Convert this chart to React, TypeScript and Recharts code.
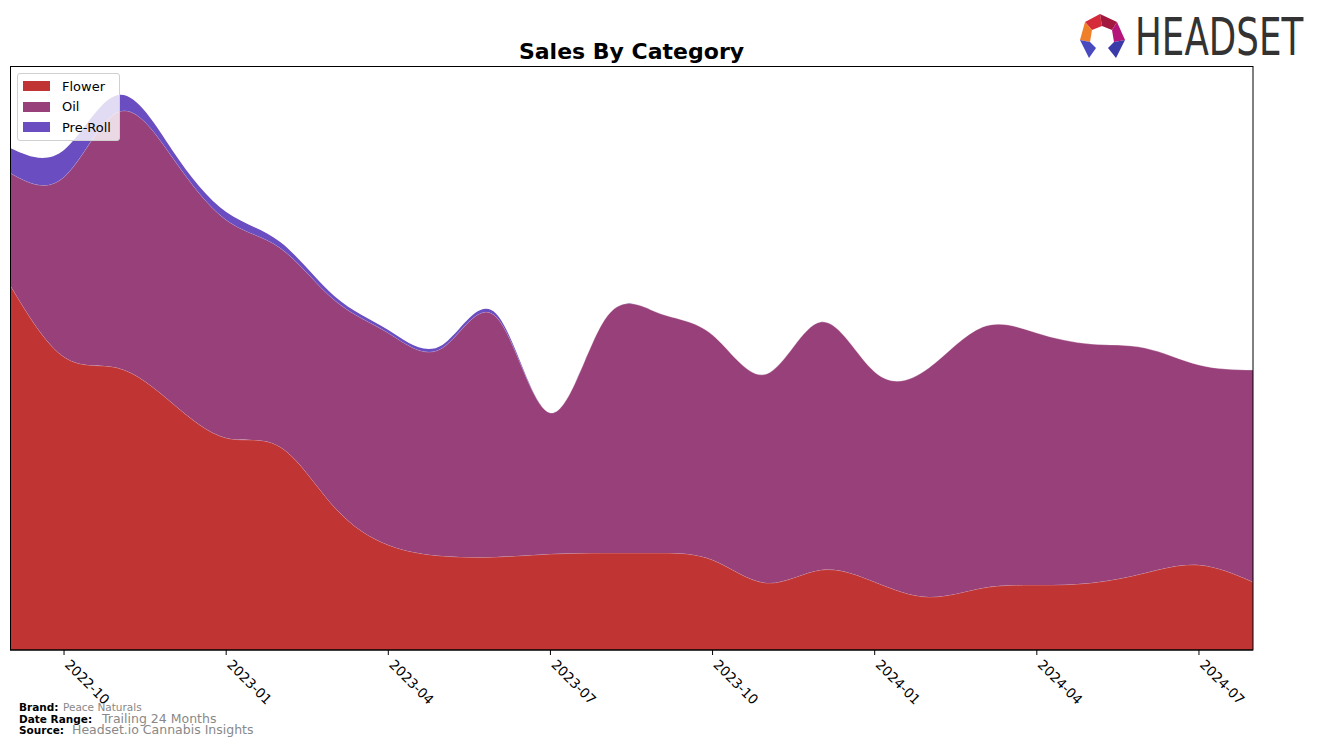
import React from "react";
import { Area, AreaChart, Legend, XAxis, YAxis } from "recharts";

// monthly points, 2022-09 .. 2024-08 (px-ish units)
const months = [
  "2022-09", "2022-10", "2022-11", "2022-12", "2023-01", "2023-02",
  "2023-03", "2023-04", "2023-05", "2023-06", "2023-07", "2023-08",
  "2023-09", "2023-10", "2023-11", "2023-12", "2024-01", "2024-02",
  "2024-03", "2024-04", "2024-05", "2024-06", "2024-07", "2024-08",
];
const tickMonths = [
  "2022-10", "2023-01", "2023-04", "2023-07",
  "2023-10", "2024-01", "2024-04", "2024-07",
];
const flower = [
  365, 293, 282, 247, 212, 203, 143, 105, 94, 93, 96, 97,
  97, 90, 67, 80, 68, 53, 62, 65, 67, 77, 85, 68,
];
const oil = [
  112, 180, 256, 246, 218, 199, 207, 212, 208, 240, 141, 233,
  240, 225, 209, 248, 210, 229, 261, 252, 239, 225, 200, 212,
];
const preRoll = [
  25, 27, 17, 7, 8, 6, 4, 3, 3, 3, 0, 0,
  0, 0, 0, 0, 0, 0, 0, 0, 0, 0, 0, 0,
];

const series = [
  { key: "Flower", color: "#C13434" },
  { key: "Oil", color: "#974079" },
  { key: "Pre-Roll", color: "#6A4DC0" },
];

const data = months.map((m, i) => ({
  month: m,
  Flower: flower[i],
  Oil: oil[i],
  "Pre-Roll": preRoll[i],
}));

const FONT = "'DejaVu Sans', Verdana, sans-serif";

function RotTick({ x, y, payload }: any) {
  return (
    <g transform={`translate(${x},${y})`}>
      <text
        x={0}
        y={0}
        transform="rotate(45) translate(6,6)"
        textAnchor="start"
        fontSize={13.5}
        fontFamily={FONT}
        fill="#000"
      >
        {payload.value}
      </text>
    </g>
  );
}

function LegendBox() {
  return (
    <div
      style={{
        border: "1px solid #d0d0d0",
        borderRadius: 3,
        background: "rgba(255,255,255,0.8)",
        padding: "2px 6px 2px 5px",
        fontFamily: FONT,
        fontSize: 13,
        width: 90,
      }}
    >
      {series.map((s) => (
        <div
          key={s.key}
          style={{ display: "flex", alignItems: "center", height: 20.5 }}
        >
          <span
            style={{
              display: "inline-block",
              width: 27,
              height: 10,
              background: s.color,
              marginRight: 12,
            }}
          />
          <span>{s.key}</span>
        </div>
      ))}
    </div>
  );
}

export default function App() {
  return (
    <div
      style={{
        position: "absolute",
        left: 0,
        top: 0,
        width: 1317,
        height: 746,
        background: "#fff",
        overflow: "hidden",
      }}
    >
      <AreaChart
        width={1317}
        height={746}
        data={data}
        margin={{ top: 66, right: 64, bottom: 36, left: 10 }}
        style={{ position: "absolute", left: 0, top: 0 }}
      >
        <XAxis
          dataKey="month"
          ticks={tickMonths}
          interval={0}
          height={60}
          tickSize={5}
          tickMargin={2}
          tick={<RotTick />}
          axisLine={{ stroke: "#000" }}
          tickLine={{ stroke: "#000" }}
        />
        <YAxis width={0} domain={[0, 584]} allowDataOverflow hide />
        <Legend
          layout="horizontal"
          verticalAlign="middle"
          align="center"
          content={<LegendBox />}
          wrapperStyle={{ left: 17, top: 73, width: 103 }}
        />
        {series.map((s) => (
          <Area
            key={s.key}
            type="natural"
            dataKey={s.key}
            stackId="1"
            fill={s.color}
            fillOpacity={1}
            stroke={s.key === "Pre-Roll" ? "none" : "rgba(255,255,255,0.3)"}
            strokeWidth={1}
            isAnimationActive={false}
            dot={false}
            activeDot={false}
          />
        ))}
      </AreaChart>

      <svg
        width={1317}
        height={746}
        style={{ position: "absolute", left: 0, top: 0, pointerEvents: "none" }}
      >
        {/* axes frame */}
        <rect
          x={10.5}
          y={66.5}
          width={1242.5}
          height={583.5}
          fill="none"
          stroke="#000"
          strokeWidth={1}
        />
        <text
          x={631.5}
          y={59}
          textAnchor="middle"
          fontFamily={FONT}
          fontWeight="bold"
          fontSize={22}
          fill="#000"
        >
          Sales By Category
        </text>

        {/* logo */}
        <g>
          <polygon points="1085,22 1100,14 1102,26 1092,30" fill="#D42A3A" />
          <polygon points="1100,14 1117,22 1112,30 1102,26" fill="#A3183F" />
          <polygon points="1085,22 1080,40 1090,42 1092,30" fill="#F07F2A" />
          <polygon points="1117,22 1125,40 1114,42 1112,30" fill="#B5157A" />
          <polygon points="1080,40 1090,42 1096,48 1089,58" fill="#4A4AC0" />
          <polygon points="1125,40 1114,42 1108,48 1116,58" fill="#3A3AA8" />
          <text
            transform="translate(1135,55) scale(0.7,1)"
            x={0}
            y={0}
            fontFamily={FONT}
            fontSize={51}
            fill="#333"
          >
            HEADSET
          </text>
        </g>

        {/* footer */}
        <g fontFamily={FONT}>
          <text x={19} y={711} fontSize={10.5} fontWeight="bold" fill="#000">
            Brand:
          </text>
          <text x={63} y={711} fontSize={10.5} fill="#888">
            Peace Naturals
          </text>
          <text x={19} y={723} fontSize={10.5} fontWeight="bold" fill="#000">
            Date Range:
          </text>
          <text x={102} y={723} fontSize={12.5} fill="#888">
            Trailing 24 Months
          </text>
          <text x={19} y={734} fontSize={10.5} fontWeight="bold" fill="#000">
            Source:
          </text>
          <text x={72} y={734} fontSize={12.5} fill="#888">
            Headset.io Cannabis Insights
          </text>
        </g>
      </svg>
    </div>
  );
}
